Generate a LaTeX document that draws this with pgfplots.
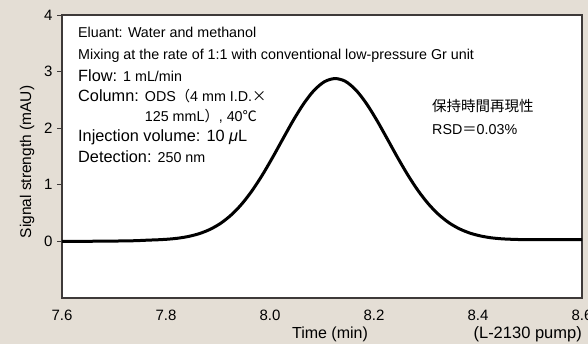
\documentclass[border=0pt]{standalone}
\usepackage{fontspec}
\setmainfont{Liberation Sans}
\newfontfamily\cjk{Noto Sans CJK JP}
\usepackage{pgfplots}
\pgfplotsset{compat=1.18}
\definecolor{bgc}{RGB}{228,222,213}
\definecolor{framec}{RGB}{62,58,57}
\newcommand{\smf}{\fontsize{14.3}{16}\selectfont}
\newcommand{\lgf}{\fontsize{16.3}{18}\selectfont}
\begin{document}
\begin{tikzpicture}[x=1pt,y=1pt]
\fill[bgc] (0,0) rectangle (588,344);
\begin{axis}[
  at={(62pt,46pt)}, anchor=south west,
  scale only axis, width=520pt, height=283pt,
  xmin=7.6, xmax=8.6, ymin=-1, ymax=4,
  axis background/.style={fill=white},
  axis line style={draw=framec, line width=1.6pt},
  xtick={7.6,7.8,8.0,8.2,8.4,8.6},
  xticklabels={7.6,7.8,8.0,8.2,8.4,8.6},
  ytick={0,1,2,3,4},
  yticklabels={0,1,2,3,4},
  tick align=outside, tick pos=left,
  xtick style={draw=none},
  ytick style={draw=framec, line width=0.8pt},
  major tick length=5pt,
  ticklabel style={font=\fontsize{15}{17}\selectfont, text=black},
  xticklabel style={yshift=-3pt},
  yticklabel style={xshift=-1pt},
  /pgf/number format/assume math mode=true,
]
\addplot[black, line width=3pt, smooth, line join=round] coordinates {
(7.60,0.000) (7.65,0.002) (7.70,0.006) (7.74,0.012)
(7.765,0.022) (7.785,0.029) (7.805,0.040) (7.825,0.059) (7.845,0.091)
(7.865,0.140) (7.885,0.214) (7.905,0.319) (7.925,0.464) (7.945,0.653)
(7.965,0.889) (7.985,1.169) (8.005,1.483) (8.025,1.815) (8.045,2.142)
(8.065,2.436) (8.085,2.671) (8.105,2.823) (8.125,2.877) (8.145,2.828)
(8.165,2.676) (8.185,2.441) (8.205,2.147) (8.225,1.820) (8.245,1.488)
(8.265,1.174) (8.285,0.894) (8.305,0.658) (8.325,0.469) (8.345,0.324)
(8.365,0.219) (8.385,0.145) (8.405,0.096) (8.425,0.064) (8.445,0.046)
(8.465,0.037) (8.485,0.032) (8.52,0.030) (8.56,0.030) (8.60,0.030)
};
\end{axis}
% annotations
\node[anchor=base west, inner sep=0] at (78,306.3) {\smf Eluant: Water and methanol};
\node[anchor=base west, inner sep=0] at (78,284.7) {\smf Mixing at the rate of 1:1 with conventional low-pressure Gr unit};
\node[anchor=base west, inner sep=0] at (78,262.3) {\lgf Flow: \smf 1 mL/min};
\node[anchor=base west, inner sep=0] at (78,242.5) {\lgf Column: \smf ODS{\cjk （}4 mm I.D.{\cjk ×}};
\node[anchor=base west, inner sep=0] at (78,222.3) {\lgf\phantom{Column: }\smf 125 mmL{\cjk ）}, 40{\cjk ℃}};
\node[anchor=base west, inner sep=0] at (78,202.3) {\lgf Injection volume: 10 \textit{μ}L};
\node[anchor=base west, inner sep=0] at (78,181.7) {\lgf Detection: \smf 250 nm};
\node[anchor=base west, inner sep=0] at (432,232.5) {\fontsize{14.5}{17}\selectfont\cjk 保持時間再現性};
\node[anchor=base west, inner sep=0] at (432,209) {\smf RSD{\cjk ＝}0.03\%};
% axis labels
\node[rotate=90, anchor=center] at (27,182) {\fontsize{15.5}{18}\selectfont Signal strength (mAU)};
\node[anchor=base, inner sep=0] at (330,5.5) {\fontsize{16}{19}\selectfont Time (min)};
\node[anchor=base east, inner sep=0] at (582,5.5) {\fontsize{16.5}{19}\selectfont (L-2130 pump)};
\pgfresetboundingbox
\path[use as bounding box] (0,0) rectangle (588,344);
\end{tikzpicture}
\end{document}
